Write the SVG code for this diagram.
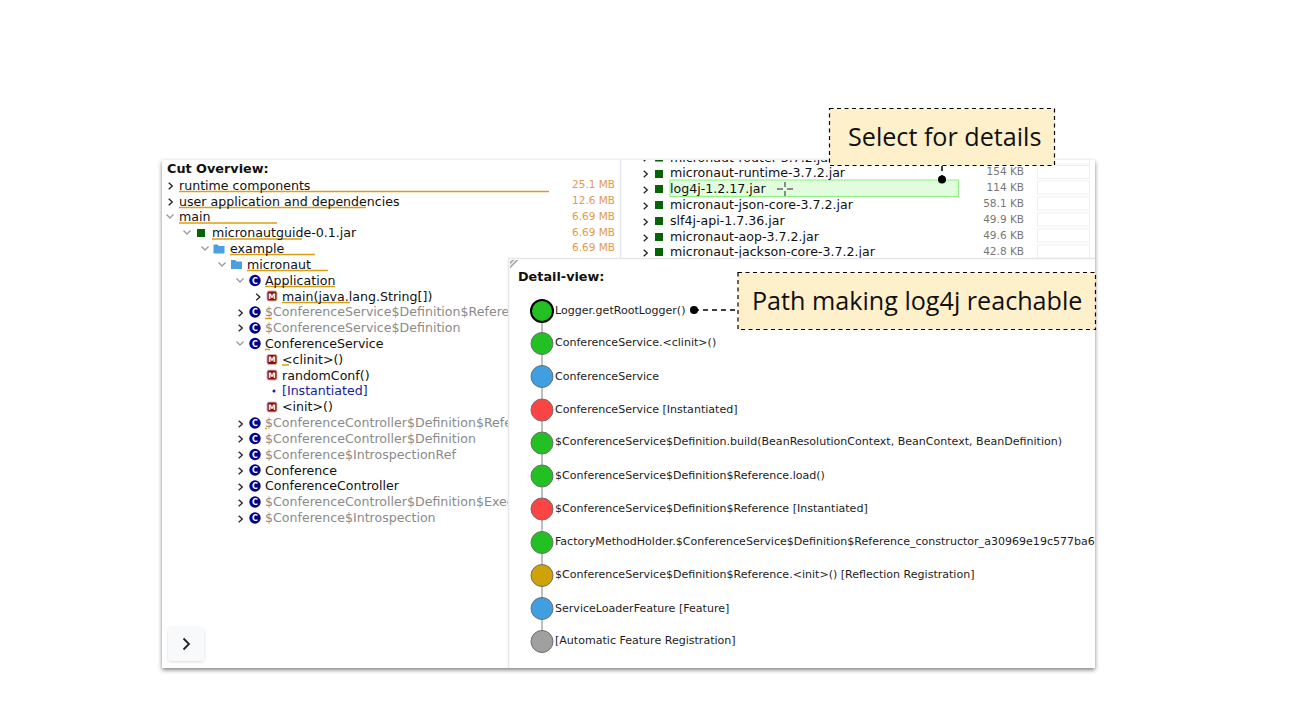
<svg xmlns="http://www.w3.org/2000/svg" width="1292" height="728" viewBox="0 0 1292 728">
<style>
text{font-family:"DejaVu Sans",sans-serif;}
.t{font-size:12.6px;fill:#111}
.g{font-size:12.6px;fill:#8a8a8a}
.h{font-size:12.8px;font-weight:bold;fill:#111}
.s{font-size:10.5px;fill:#e39a48}
.k{font-size:10.5px;fill:#777}
.d{font-size:11.05px;fill:#1c1c1c}
.c{font-family:"Open Sans",sans-serif;font-size:25.15px;fill:#111}
.u{stroke:#dd9f10;stroke-width:1.6;fill:none}
.ar{fill:none;stroke:#222;stroke-width:1.3}
.av{fill:none;stroke:#999;stroke-width:1.3}
.jar{fill:#056205}
.box{fill:#fff;stroke:#f0f0f0;stroke-width:1}
.ci{fill:#00008b}
.cl{font-size:8px;font-weight:bold;fill:#fff}
.m{fill:#8b0f0f;stroke:#d8b0b0;stroke-width:1}
.ml{font-size:7.5px;font-weight:bold;fill:#fff}
.n{stroke:#6f6f6f;stroke-width:1}
.callout{fill:#fff0cc;stroke:#000;stroke-width:1.2;stroke-dasharray:4 3.5}
.cn{stroke:#000;stroke-width:1.5;stroke-dasharray:5 4;fill:none}
</style>
<defs>
<filter id="sh" x="-5%" y="-5%" width="110%" height="110%"><feDropShadow dx="0" dy="2" stdDeviation="2" flood-color="#000" flood-opacity="0.5"/></filter>
<filter id="sh2" x="-30%" y="-30%" width="160%" height="160%"><feDropShadow dx="0" dy="1" stdDeviation="1.5" flood-color="#000" flood-opacity="0.15"/></filter>
<clipPath id="left"><rect x="162" y="160" width="346" height="508"/><rect x="508" y="160" width="112" height="98"/></clipPath>
<clipPath id="right"><rect x="622" y="160" width="473" height="98"/></clipPath>
<clipPath id="det"><rect x="509" y="259" width="586" height="409"/></clipPath>
<pattern id="hatch" width="3" height="3" patternUnits="userSpaceOnUse" patternTransform="rotate(45)"><rect width="3" height="3" fill="#fff"/><rect width="1.5" height="3" fill="#999"/></pattern>
<g id="cic"><circle r="5.7" class="ci"/><text class="cl" text-anchor="middle" y="3">C</text></g>
<g id="mic"><rect x="-5" y="-5" width="10" height="10" rx="2" class="m"/><text class="ml" text-anchor="middle" y="2.7">M</text></g>
<path id="ra" class="ar" d="M-1.800 -3.200 L1.800 0 L-1.800 3.200"/>
<path id="da" class="av" d="M-3.500 -1.500 L0 2 L3.500 -1.500"/>
<path id="fo" d="M-5.500 -4.500h4l1.500 1.500h5.500v7.500h-11z" fill="#4a9fe0"/>
</defs>

<rect x="0" y="0" width="1292" height="728" fill="#fff"/>
<rect x="162" y="160" width="933" height="508" fill="#fff" filter="url(#sh)"/>

<g id="overview" clip-path="url(#left)">
<text class="h" x="167" y="173">Cut Overview:</text>
<g class="u"><path d="M179 191.500H549M179 207.500H366M179 223H277M212 239H302M230 254.500H315M247 270.500H328M265 286.500H335M282 302.500H350M265 318.500H272M265 349.500H270M282 365H289M265 428.500H267"/></g>
<use href="#ra" x="170.500" y="186"/><use href="#ra" x="170.500" y="202"/><use href="#da" x="170" y="216"/>
<text class="t" x="179" y="190">runtime components</text>
<text class="t" x="179" y="206">user application and dependencies</text>
<text class="t" x="179" y="221">main</text>
<use href="#da" x="187" y="232"/><rect x="197" y="229" width="8" height="8" class="jar"/>
<text class="t" x="212" y="237">micronautguide-0.1.jar</text>
<use href="#da" x="205" y="248"/><use href="#fo" x="219" y="249"/>
<text class="t" x="230" y="253">example</text>
<use href="#da" x="222" y="264"/><use href="#fo" x="236.500" y="264.500"/>
<text class="t" x="247" y="269">micronaut</text>
<use href="#da" x="240" y="280"/><use href="#cic" x="255" y="280.500"/>
<text class="t" x="265" y="285">Application</text>
<use href="#ra" x="258" y="297"/><use href="#mic" x="272" y="296"/>
<text class="t" x="282" y="301">main(java.lang.String[])</text>
<use href="#ra" x="240.500" y="313"/><use href="#cic" x="255" y="312"/>
<text class="g" x="265" y="316">$ConferenceService$Definition$Reference</text>
<use href="#ra" x="240.500" y="328"/><use href="#cic" x="255" y="328"/>
<text class="g" x="265" y="332">$ConferenceService$Definition</text>
<use href="#da" x="240" y="343"/><use href="#cic" x="255" y="343.500"/>
<text class="t" x="265" y="348">ConferenceService</text>
<use href="#mic" x="272" y="359.500"/><text class="t" x="282" y="364">&lt;clinit&gt;()</text>
<use href="#mic" x="272" y="375"/><text class="t" x="282" y="380">randomConf()</text>
<circle cx="274" cy="391" r="1.500" fill="#1a1aa0"/><text class="t" x="282" y="395" style="fill:#1a1aa0">[Instantiated]</text>
<use href="#mic" x="272" y="407"/><text class="t" x="282" y="411">&lt;init&gt;()</text>
<use href="#ra" x="240.500" y="424"/><use href="#cic" x="255" y="423"/>
<text class="g" x="265" y="427">$ConferenceController$Definition$Reference</text>
<use href="#ra" x="240.500" y="439"/><use href="#cic" x="255" y="438.500"/>
<text class="g" x="265" y="443">$ConferenceController$Definition</text>
<use href="#ra" x="240.500" y="455"/><use href="#cic" x="255" y="454.500"/>
<text class="g" x="265" y="459">$Conference$IntrospectionRef</text>
<use href="#ra" x="240.500" y="471"/><use href="#cic" x="255" y="470"/>
<text class="t" x="265" y="475">Conference</text>
<use href="#ra" x="240.500" y="487"/><use href="#cic" x="255" y="486"/>
<text class="t" x="265" y="490">ConferenceController</text>
<use href="#ra" x="240.500" y="503"/><use href="#cic" x="255" y="502"/>
<text class="g" x="265" y="506">$ConferenceController$Definition$Execution</text>
<use href="#ra" x="240.500" y="519"/><use href="#cic" x="255" y="518"/>
<text class="g" x="265" y="522">$Conference$Introspection</text>
</g>
<g id="sizes">
<text class="s" x="615" y="188" text-anchor="end">25.1 MB</text>
<text class="s" x="615" y="204" text-anchor="end">12.6 MB</text>
<text class="s" x="615" y="220" text-anchor="end">6.69 MB</text>
<text class="s" x="615" y="236" text-anchor="end">6.69 MB</text>
<text class="s" x="615" y="251" text-anchor="end">6.69 MB</text>
</g>
<path d="M620.500 160V258" stroke="#e4e6ee" stroke-width="1.500"/>

<g id="jars" clip-path="url(#right)">
<rect x="670" y="180" width="288.500" height="16.500" fill="#e2fdde" stroke="#8fee85"/>
<g class="box"><rect x="1037.500" y="150" width="52" height="14"/><rect x="1037.500" y="165.500" width="52" height="13"/><rect x="1037.500" y="181" width="52" height="13"/><rect x="1037.500" y="197" width="52" height="13"/><rect x="1037.500" y="213" width="52" height="13"/><rect x="1037.500" y="229" width="52" height="13"/><rect x="1037.500" y="245" width="52" height="13"/></g>
<use href="#ra" x="645.500" y="158"/><rect x="655" y="155" width="8" height="6.500" class="jar"/>
<text class="t" x="670" y="162">micronaut-router-3.7.2.jar</text>
<use href="#ra" x="645.500" y="174"/><rect x="655" y="170" width="8" height="8" class="jar"/>
<text class="t" x="670" y="177">micronaut-runtime-3.7.2.jar</text>
<use href="#ra" x="645.500" y="190"/><rect x="655" y="185" width="8" height="8" class="jar"/>
<text class="t" x="670" y="193">log4j-1.2.17.jar</text>
<path d="M777 189H783M787 189H793M785 182V187M785 191V196" stroke="#8a8a8a" stroke-width="2" fill="none"/>
<use href="#ra" x="645.500" y="206"/><rect x="655" y="201" width="8" height="8" class="jar"/>
<text class="t" x="670" y="209">micronaut-json-core-3.7.2.jar</text>
<use href="#ra" x="645.500" y="222"/><rect x="655" y="217" width="8" height="8" class="jar"/>
<text class="t" x="670" y="225">slf4j-api-1.7.36.jar</text>
<use href="#ra" x="645.500" y="238"/><rect x="655" y="233" width="8" height="8" class="jar"/>
<text class="t" x="670" y="241">micronaut-aop-3.7.2.jar</text>
<use href="#ra" x="645.500" y="253"/><rect x="655" y="248" width="8" height="8" class="jar"/>
<text class="t" x="670" y="256">micronaut-jackson-core-3.7.2.jar</text>
<text class="k" x="1024" y="175" text-anchor="end">154 KB</text>
<text class="k" x="1024" y="191" text-anchor="end">114 KB</text>
<text class="k" x="1024" y="207" text-anchor="end">58.1 KB</text>
<text class="k" x="1024" y="223" text-anchor="end">49.9 KB</text>
<text class="k" x="1024" y="239" text-anchor="end">49.6 KB</text>
<text class="k" x="1024" y="255" text-anchor="end">42.8 KB</text>
</g>

<rect x="508" y="258" width="587" height="410" fill="#fff"/>
<path d="M508.500 668V258.500H1095" fill="none" stroke="#e6e6e6" stroke-width="1.500"/>
<path d="M510 260h9l-9 9z" fill="url(#hatch)"/>
<text class="h" x="518" y="281">Detail-view:</text>

<g id="connectors">
<path d="M542 311V641" stroke="#aaa" stroke-width="1.500" fill="none"/>
<path class="cn" d="M694 310H738"/>
<circle cx="694" cy="310" r="4" fill="#000"/>
<path class="cn" d="M942 166V179"/>
<circle cx="942" cy="179.500" r="4" fill="#000"/>
</g>

<g id="detail" clip-path="url(#det)">
<g id="n1"><circle cx="542" cy="311" r="11" fill="#22c022" stroke="#000" stroke-width="2"/><text class="d" x="555" y="314">Logger.getRootLogger()</text></g>
<g id="n2"><circle cx="542" cy="343.500" r="11" fill="#22c022" class="n"/><text class="d" x="555" y="346">ConferenceService.&lt;clinit&gt;()</text></g>
<g id="n3"><circle cx="542" cy="376.500" r="11" fill="#3f9fe0" class="n"/><text class="d" x="555" y="380">ConferenceService</text></g>
<g id="n4"><circle cx="542" cy="410" r="11" fill="#fb4444" class="n"/><text class="d" x="555" y="413">ConferenceService [Instantiated]</text></g>
<g id="n5"><circle cx="542" cy="443" r="11" fill="#22c022" class="n"/><text class="d" x="555" y="445">$ConferenceService$Definition.build(BeanResolutionContext, BeanContext, BeanDefinition)</text></g>
<g id="n6"><circle cx="542" cy="476" r="11" fill="#22c022" class="n"/><text class="d" x="555" y="479">$ConferenceService$Definition$Reference.load()</text></g>
<g id="n7"><circle cx="542" cy="509" r="11" fill="#fb4444" class="n"/><text class="d" x="555" y="512">$ConferenceService$Definition$Reference [Instantiated]</text></g>
<g id="n8"><circle cx="542" cy="542.500" r="11" fill="#22c022" class="n"/><text class="d" x="555" y="545">FactoryMethodHolder.$ConferenceService$Definition$Reference_constructor_a30969e19c577ba6c</text></g>
<g id="n9"><circle cx="542" cy="575.500" r="11" fill="#cfa205" class="n"/><text class="d" x="555" y="578">$ConferenceService$Definition$Reference.&lt;init&gt;() [Reflection Registration]</text></g>
<g id="n10"><circle cx="542" cy="608.500" r="11" fill="#3f9fe0" class="n"/><text class="d" x="555" y="612">ServiceLoaderFeature [Feature]</text></g>
<g id="n11"><circle cx="542" cy="641.500" r="11" fill="#a0a0a0" class="n"/><text class="d" x="555" y="644">[Automatic Feature Registration]</text></g>
</g>

<g id="toggle"><rect x="168" y="627" width="36" height="34" rx="4" fill="#f8f9fb" filter="url(#sh2)"/><path d="M183.500 638.500L189 644L183.500 649.500" fill="none" stroke="#222" stroke-width="1.800"/></g>

<g id="callout-select"><rect class="callout" x="829.500" y="108.500" width="225" height="57"/><text class="c" x="848" y="146">Select for details</text></g>
<g id="callout-path"><rect class="callout" x="738" y="272.500" width="357.500" height="57"/><text class="c" x="752" y="310">Path making log4j reachable</text></g>
</svg>
